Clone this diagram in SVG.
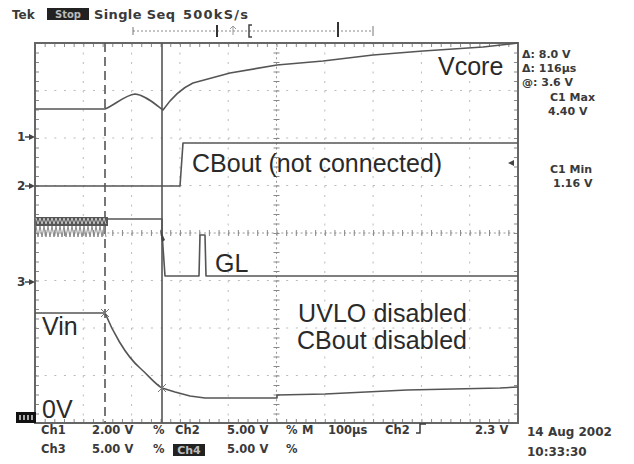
<svg xmlns="http://www.w3.org/2000/svg" width="634" height="464" viewBox="0 0 634 464">
<style>
.grid{stroke:#bbb;stroke-width:1;stroke-dasharray:2 7.66;fill:none}
.gridv{stroke:#bbb;stroke-width:1;stroke-dasharray:2 7.5;fill:none}
.tr{fill:none;stroke:#555;stroke-width:1.6;stroke-linejoin:round}
.lbl{font-family:"Liberation Sans",Arial,sans-serif;font-size:25px;fill:#2a2a2a}
.ui{font-family:"DejaVu Sans",sans-serif;font-weight:bold;fill:#3a3a3a}
</style>
<rect width="634" height="464" fill="#fff"/>

<g id="graticule">
  <g class="gridv">
    <path d="M83.3,43V423M131.6,43V423M179.9,43V423M228.2,43V423M324.8,43V423M373.1,43V423M421.4,43V423M469.7,43V423"/>
  </g>
  <g class="grid">
    <path d="M35,90.5H518M35,138H518M35,185.5H518M35,280.5H518M35,328H518M35,375.5H518"/>
  </g>
  <path d="M35,233H518" stroke="#999" stroke-width="1" stroke-dasharray="2 2.83"/>
  <path d="M35,233H518" stroke="#888" stroke-width="6" stroke-dasharray="1 8.66"/>
  <path d="M276.5,43V423" stroke="#999" stroke-width="1" stroke-dasharray="2 2.75"/>
  <path d="M276.5,43V423" stroke="#888" stroke-width="6" stroke-dasharray="1 8.5"/>
  <path d="M35,45H518M35,421H518" stroke="#888" stroke-width="4" stroke-dasharray="1 8.66"/>
  <path d="M37,43V423M516,43V423" stroke="#888" stroke-width="4" stroke-dasharray="1 8.5"/>
  <rect x="35" y="43" width="483" height="380" fill="none" stroke="#666" stroke-width="2"/>
</g>

<g id="cursors">
  <path d="M105,43V423" stroke="#555" stroke-width="1.6" stroke-dasharray="9 5"/>
  <path d="M162,43V423" stroke="#555" stroke-width="1.6"/>
</g>

<g id="connectors">
  <path id="vcore-trace" class="tr" d="M35,109L105,109C115,105 125,95 135,94C145,95 155,104 163,110C170,100 180,89 193,83L230,73L277,65L323,61L373,55L423,51L483,47L510,44L518,43"/>
  <path id="cbout-trace" class="tr" d="M35,186L180,186L183,143L518,143"/>
  <g id="gl-trace">
    <rect x="36" y="217" width="72" height="9" fill="#555"/>
    <path d="M36,226l2,11l2,-11l2,11l2,-11l2,11l2,-11l2,11l2,-11l2,11l2,-11l2,11l2,-11l2,11l2,-11l2,11l2,-11l2,11l2,-11l2,11l2,-11l2,11l2,-11l2,11l2,-11l2,11l2,-11l2,11l2,-11l2,11l2,-11l2,11l2,-11l2,11l2,-11l2,11" fill="none" stroke="#888" stroke-width="1"/>
    <path d="M36,218l2,6l2,-6l2,6l2,-6l2,6l2,-6l2,6l2,-6l2,6l2,-6l2,6l2,-6l2,6l2,-6l2,6l2,-6l2,6l2,-6l2,6l2,-6l2,6l2,-6l2,6l2,-6l2,6l2,-6l2,6l2,-6l2,6l2,-6l2,6l2,-6l2,6l2,-6l2,6" fill="none" stroke="#ddd" stroke-width="0.8"/>
    <path class="tr" d="M108,219L162,219L162,233L165,276L199,276L200,235L205,235L206,276L518,276"/>
    <polygon points="160,229 165,240 162,242" fill="#444"/>
  </g>
  <path id="vin-trace" class="tr" d="M35,313L105,313C112,330 125,355 140,368C150,377 155,384 162,388L175,392L190,396L205,398L277,398L277,395L325,394L407,390L500,388L518,387"/>
  <path d="M101,309l8,8M109,309l-8,8M158,384l8,8M166,384l-8,8" stroke="#777" stroke-width="1"/>
  <polygon points="514,160 508,163 514,166" fill="#444"/>
</g>

<g id="channel-markers">
  <text class="ui" x="17" y="141" font-size="12">1</text>
  <path d="M25,137H30" stroke="#444" stroke-width="1.5"/><polygon points="29,134 35,137 29,140" fill="#444"/>
  <text class="ui" x="17" y="190" font-size="12">2</text>
  <path d="M25,186H30" stroke="#444" stroke-width="1.5"/><polygon points="29,183 35,186 29,189" fill="#444"/>
  <text class="ui" x="17" y="286" font-size="12">3</text>
  <path d="M25,282H30" stroke="#444" stroke-width="1.5"/><polygon points="29,279 35,282 29,285" fill="#444"/>
  <rect x="16" y="412" width="20" height="11" fill="#111"/>
  <path d="M20,415V420M24,415V420M28,415V420M32,415V420" stroke="#ddd" stroke-width="1.5"/>
</g>

<g id="labels">
  <text class="lbl" x="438" y="75">Vcore</text>
  <text class="lbl" x="192" y="172">CBout (not connected)</text>
  <text class="lbl" x="215" y="272" font-size="24">GL</text>
  <text class="lbl" x="42" y="335">Vin</text>
  <text class="lbl" x="298" y="322" font-size="23.5" textLength="169">UVLO disabled</text>
  <text class="lbl" x="297" y="349" font-size="23.5" textLength="170">CBout disabled</text>
  <text class="lbl" x="42" y="418" font-size="27">0V</text>
</g>

<g id="header">
  <text class="ui" x="12" y="19" font-size="12">Tek</text>
  <rect x="47" y="8" width="42" height="12" fill="#222"/>
  <text class="ui" x="68" y="18" font-size="10" text-anchor="middle" style="fill:#bbb">Stop</text>
  <text class="ui" x="94" y="19" font-size="13" textLength="81">Single Seq</text>
  <text class="ui" x="183" y="19" font-size="13" textLength="65">500kS/s</text>
  <path d="M133,31H373" stroke="#888" stroke-width="1" stroke-dasharray="2 2"/>
  <path d="M133,27V35M373,26V36" stroke="#777" stroke-width="1"/>
  <path d="M217,25V37M338,22V37" stroke="#333" stroke-width="2"/>
  <path d="M233,27V35M230,29L233,26L236,29" stroke="#999" stroke-width="1" fill="none"/>
  <path d="M252,25H249V37H252" stroke="#444" stroke-width="1.5" fill="none"/>
</g>

<g id="readouts">
  <text class="ui" x="522" y="58" font-size="11">Δ: 8.0 V</text>
  <text class="ui" x="522" y="72" font-size="11">Δ: 116µs</text>
  <text class="ui" x="522" y="86" font-size="11">@: 3.6 V</text>
  <text class="ui" x="550" y="101" font-size="11">C1 Max</text>
  <text class="ui" x="548" y="115" font-size="11">4.40 V</text>
  <text class="ui" x="550" y="173" font-size="11">C1 Min</text>
  <text class="ui" x="553" y="187" font-size="11">1.16 V</text>
</g>

<g id="footer">
  <text class="ui" x="41" y="434" font-size="11.5">Ch1</text>
  <text class="ui" x="92" y="434" font-size="11.5">2.00 V</text>
  <text class="ui" x="153" y="434" font-size="11.5">%</text>
  <text class="ui" x="175" y="434" font-size="11.5">Ch2</text>
  <text class="ui" x="227" y="434" font-size="11.5">5.00 V</text>
  <text class="ui" x="286" y="434" font-size="11.5">%</text>
  <text class="ui" x="302" y="434" font-size="11.5">M</text>
  <text class="ui" x="328" y="434" font-size="11.5">100µs</text>
  <text class="ui" x="385" y="434" font-size="11.5">Ch2</text>
  <path d="M416,433H420V424H426" stroke="#3a3a3a" stroke-width="1.5" fill="none"/>
  <text class="ui" x="475" y="434" font-size="11.5">2.3 V</text>
  <text class="ui" x="41" y="453" font-size="11.5">Ch3</text>
  <text class="ui" x="92" y="453" font-size="11.5">5.00 V</text>
  <text class="ui" x="153" y="453" font-size="11.5">%</text>
  <rect x="173" y="444" width="32" height="12" fill="#222"/>
  <text class="ui" x="189" y="454" font-size="11" text-anchor="middle" style="fill:#bbb">Ch4</text>
  <text class="ui" x="227" y="453" font-size="11.5">5.00 V</text>
  <text class="ui" x="286" y="453" font-size="11.5">%</text>
  <text class="ui" x="527" y="436" font-size="12">14 Aug 2002</text>
  <text class="ui" x="527" y="456" font-size="12">10:33:30</text>
</g>
</svg>
